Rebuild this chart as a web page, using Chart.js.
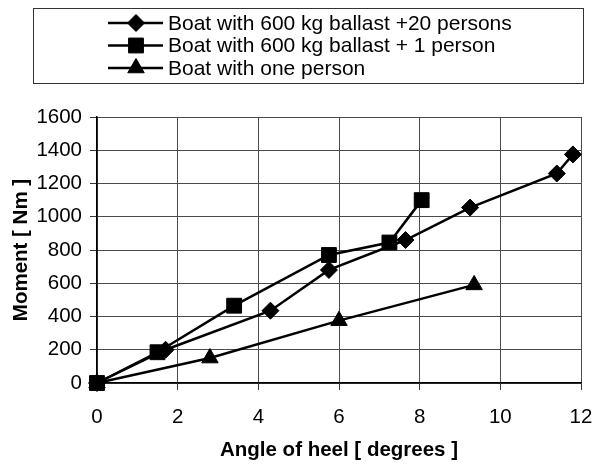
<!DOCTYPE html>
<html>
<head>
<meta charset="utf-8">
<script src="https://cdn.jsdelivr.net/npm/chart.js@4/dist/chart.umd.min.js"></script>
<style>
html, body { margin: 0; padding: 0; background: #fff; }
#wrap { width: 593px; height: 465px; position: relative; }
</style>
</head>
<body>
<div id="wrap"><canvas id="myChart"></canvas></div>
<script>
const seriesNames = ['Boat with 600 kg ballast +20 persons', 'Boat with 600 kg ballast + 1 person', 'Boat with one person'];
const ballast20Angle = [0, 1.7, 4.3, 5.75, 7.65, 9.25, 11.4, 11.8];
const ballast20Moment = [0, 200, 435, 680, 860, 1055, 1260, 1375];
const ballast1Angle = [0, 1.5, 3.4, 5.75, 7.25, 8.05];
const ballast1Moment = [0, 185, 465, 770, 845, 1100];
const onePersonAngle = [0, 2.8, 6.0, 9.35];
const onePersonMoment = [0, 150, 375, 590];
const xTitle = 'Angle of heel [ degrees ]';
const yTitle = 'Moment [ Nm ]';

const toPoints = (xs, ys) => xs.map((x, i) => ({ x: x, y: ys[i] }));

Chart.defaults.font.family = '"Liberation Sans", Arial, sans-serif';
Chart.defaults.color = '#000';

// legend drawn by hand: lines with markers, left-aligned inside a box
const boxLegend = {
    id: 'boxLegend',
    afterDraw(chart) {
        const ctx = chart.ctx;
        ctx.save();
        ctx.strokeStyle = '#333';
        ctx.lineWidth = 1;
        ctx.strokeRect(33.5, 8.5, 550, 75);
        chart.data.datasets.forEach((ds, i) => {
            const y = 23 + i * 22.5;
            ctx.strokeStyle = '#000';
            ctx.lineWidth = 2.5;
            ctx.beginPath();
            ctx.moveTo(108, y);
            ctx.lineTo(163, y);
            ctx.stroke();
            ctx.fillStyle = '#000';
            ctx.lineWidth = 1;
            Chart.helpers.drawPoint(ctx, { pointStyle: ds.pointStyle, radius: ds.pointRadius, borderWidth: 1, rotation: 0 }, 136, y);
            ctx.font = '21px "Liberation Sans", Arial, sans-serif';
            ctx.textBaseline = 'middle';
            ctx.textAlign = 'left';
            ctx.fillText(ds.label, 168, y + 1);
        });
        ctx.restore();
    }
};

const lineStyle = {
    showLine: true,
    borderColor: '#000',
    borderWidth: 2.5,
    backgroundColor: '#000',
    pointBackgroundColor: '#000',
    pointBorderColor: '#000',
    pointBorderWidth: 1,
    pointHoverRadius: 0,
    tension: 0,
    clip: false
};

const plainTick = v => String(v);

const ctx = document.getElementById('myChart').getContext('2d');
const myChart = new Chart(ctx, {
    type: 'scatter',
    data: {
        datasets: [
            Object.assign({ label: seriesNames[0], data: toPoints(ballast20Angle, ballast20Moment), pointStyle: 'rectRot', pointRadius: 8.5, order: 2 }, lineStyle),
            Object.assign({ label: seriesNames[1], data: toPoints(ballast1Angle, ballast1Moment), pointStyle: 'rect', pointRadius: 10.5, order: 1 }, lineStyle),
            Object.assign({ label: seriesNames[2], data: toPoints(onePersonAngle, onePersonMoment), pointStyle: 'triangle', pointRadius: 9.5, order: 3 }, lineStyle)
        ]
    },
    options: {
        responsive: true,
        maintainAspectRatio: false,
        animation: false,
        layout: { padding: { top: 117, right: 12, left: 0, bottom: 0 } },
        plugins: {
            legend: { display: false },
            tooltip: { enabled: false }
        },
        scales: {
            x: {
                type: 'linear',
                min: 0,
                max: 12,
                ticks: { stepSize: 2, color: '#000', font: { size: 20.5 }, padding: 15, callback: plainTick },
                grid: { color: '#4a4a4a', lineWidth: 1, tickLength: 7, tickColor: '#333' },
                border: { color: '#000', width: 1.5 },
                title: { display: true, text: xTitle, color: '#000', font: { size: 20.5, weight: 'bold' }, padding: { top: 0, bottom: 2 } },
                afterFit(scale) {
                    scale.height = 82;
                    scale.paddingRight = 0;
                    scale.paddingLeft = 0;
                }
            },
            y: {
                type: 'linear',
                min: 0,
                max: 1600,
                ticks: { stepSize: 200, color: '#000', font: { size: 20.5 }, padding: 8, callback: plainTick },
                grid: { color: '#4a4a4a', lineWidth: 1, tickLength: 7, tickColor: '#333' },
                border: { color: '#000', width: 1.5 },
                title: { display: true, text: yTitle, color: '#000', font: { size: 20.5, weight: 'bold' }, padding: { top: 9, bottom: 0 } },
                afterFit(scale) {
                    scale.width = 97;
                    scale.paddingTop = 0;
                    scale.paddingBottom = 0;
                }
            }
        }
    },
    plugins: [boxLegend]
});
</script>
</body>
</html>
